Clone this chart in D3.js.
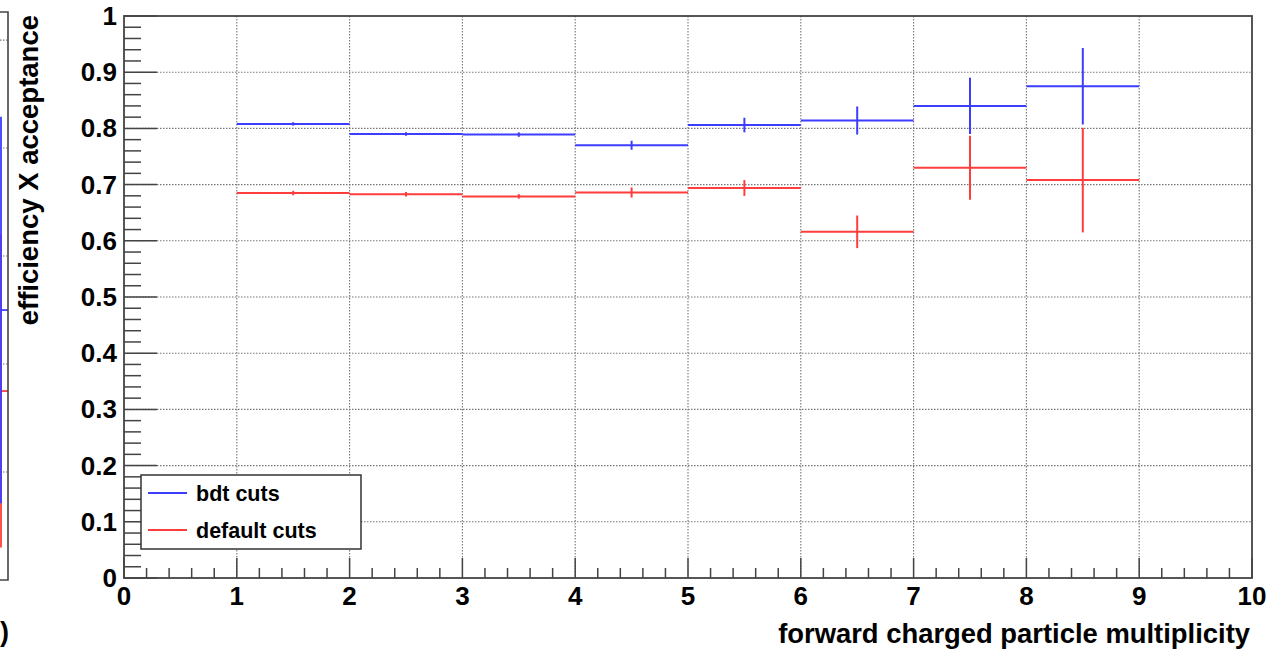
<!DOCTYPE html>
<html>
<head>
<meta charset="utf-8">
<script src="https://cdn.jsdelivr.net/npm/d3@7"></script>
<style>
  body { margin: 0; background: #fff; }
  svg { display: block; font-family: "Liberation Sans", Arial, Helvetica, sans-serif; font-weight: bold; }
</style>
</head>
<body>
<svg id="chart" width="1286" height="651"></svg>
<script>
// bin edges of the multiplicity histogram
const binEdges = [1, 2, 3, 4, 5, 6, 7, 8, 9];
const bdtValues = [0.808, 0.790, 0.789, 0.770, 0.806, 0.814, 0.840, 0.875];
const bdtErrors = [0.003, 0.003, 0.004, 0.008, 0.013, 0.025, 0.050, 0.068];
const defaultValues = [0.685, 0.683, 0.679, 0.686, 0.694, 0.616, 0.730, 0.708];
const defaultErrors = [0.004, 0.004, 0.004, 0.009, 0.014, 0.029, 0.057, 0.093];
const seriesNames = ["bdt cuts", "default cuts"];
const seriesColors = ["#3d3dff", "#ff3d3d"];
const xTicks = [0, 1, 2, 3, 4, 5, 6, 7, 8, 9, 10];
const yTicks = [0, 0.1, 0.2, 0.3, 0.4, 0.5, 0.6, 0.7, 0.8, 0.9, 1];

// neighbouring pad, only its last bin is visible at the left edge
const sideBin = [9, 10];
const sideValues = [0.25, 0.175];
const sideErrors = [0.179, 0.145];
const sideGrid = [0.1, 0.2, 0.3, 0.4, 0.5];

const frame = {left: 124, right: 1252, top: 16, bottom: 578};
const axisColor = "#444";
const gridColor = "#777";

const svg = d3.select("#chart");

const x = d3.scaleLinear().domain([0, 10]).range([frame.left, frame.right]);
const y = d3.scaleLinear().domain([0, 1]).range([frame.bottom, frame.top]);

// ---- side pad (cut off) ----
const sx = d3.scaleLinear().domain([0, 10]).range([-132, 8]);
const sy = d3.scaleLinear().domain([0, 0.526]).range([580, 12]);

svg.append("g").selectAll("line").data(sideGrid).join("line")
    .attr("x1", 0).attr("x2", sx(10))
    .attr("y1", d => sy(d)).attr("y2", d => sy(d))
    .attr("stroke", gridColor).attr("stroke-width", 1.1)
    .attr("stroke-dasharray", "1.5,1.5");

[1, 0].forEach(i => {
    const g = svg.append("g").attr("stroke", seriesColors[i]).attr("stroke-width", 1.8);
    const c = (sideBin[0] + sideBin[1]) / 2;
    g.append("line")
        .attr("x1", sx(sideBin[0])).attr("x2", sx(sideBin[1]))
        .attr("y1", sy(sideValues[i])).attr("y2", sy(sideValues[i]));
    g.append("line")
        .attr("x1", sx(c)).attr("x2", sx(c))
        .attr("y1", sy(sideValues[i] - sideErrors[i])).attr("y2", sy(sideValues[i] + sideErrors[i]));
});

svg.append("path")
    .attr("d", `M0,${sy(0.526)}H${sx(10)}V${sy(0)}H0`)
    .attr("fill", "none").attr("stroke", axisColor).attr("stroke-width", 1.6);

svg.append("text")
    .attr("x", 0).attr("y", 641)
    .attr("font-size", 27)
    .text(")");

// ---- grid ----
svg.append("g").selectAll("line").data(yTicks.slice(1, -1)).join("line")
    .attr("x1", frame.left).attr("x2", frame.right)
    .attr("y1", d => y(d)).attr("y2", d => y(d))
    .attr("stroke", gridColor).attr("stroke-width", 1.1)
    .attr("stroke-dasharray", "1.5,1.5");

svg.append("g").selectAll("line").data(xTicks.slice(1, -1)).join("line")
    .attr("y1", frame.top).attr("y2", frame.bottom)
    .attr("x1", d => x(d)).attr("x2", d => x(d))
    .attr("stroke", gridColor).attr("stroke-width", 1.1)
    .attr("stroke-dasharray", "1.5,1.5");

// ---- ticks ----
const yMinor = d3.range(0, 1.0001, 0.02);
svg.append("g").selectAll("line").data(yMinor).join("line")
    .attr("x1", frame.left)
    .attr("x2", (d, i) => frame.left + (i % 5 === 0 ? 33 : 17))
    .attr("y1", d => y(d)).attr("y2", d => y(d))
    .attr("stroke", axisColor).attr("stroke-width", 1.5);

const xMinor = d3.range(0, 10.0001, 0.2);
svg.append("g").selectAll("line").data(xMinor).join("line")
    .attr("x1", d => x(d)).attr("x2", d => x(d))
    .attr("y1", frame.bottom)
    .attr("y2", (d, i) => frame.bottom - (i % 5 === 0 ? 20 : 10))
    .attr("stroke", axisColor).attr("stroke-width", 1.5);

// ---- data: histogram with error bars ----
const series = [
    {values: bdtValues, errors: bdtErrors},
    {values: defaultValues, errors: defaultErrors}
];

series.forEach((s, i) => {
    const bins = s.values.map((v, k) => ({lo: binEdges[k], hi: binEdges[k + 1], v: v, e: s.errors[k]}));
    const g = svg.append("g")
        .attr("stroke", seriesColors[i])
        .attr("stroke-width", 2);
    g.selectAll(".h").data(bins).join("line")
        .attr("class", "h")
        .attr("x1", d => x(d.lo)).attr("x2", d => x(d.hi))
        .attr("y1", d => y(d.v)).attr("y2", d => y(d.v));
    g.selectAll(".v").data(bins).join("line")
        .attr("class", "v")
        .attr("x1", d => x((d.lo + d.hi) / 2)).attr("x2", d => x((d.lo + d.hi) / 2))
        .attr("y1", d => y(d.v - d.e)).attr("y2", d => y(d.v + d.e));
});

// ---- frame ----
svg.append("rect")
    .attr("x", frame.left).attr("y", frame.top)
    .attr("width", frame.right - frame.left).attr("height", frame.bottom - frame.top)
    .attr("fill", "none").attr("stroke", axisColor).attr("stroke-width", 1.8);

// ---- tick labels ----
svg.append("g").selectAll("text").data(yTicks).join("text")
    .attr("x", 117)
    .attr("y", d => y(d) + 9)
    .attr("text-anchor", "end")
    .attr("font-size", 26)
    .attr("fill", "#000")
    .text(d => d3.format("~g")(d));

svg.append("g").selectAll("text").data(xTicks).join("text")
    .attr("x", d => x(d))
    .attr("y", 605)
    .attr("text-anchor", "middle")
    .attr("font-size", 26)
    .attr("fill", "#000")
    .text(d => d);

// ---- axis titles ----
svg.append("text")
    .attr("transform", "translate(38,15) rotate(-90)")
    .attr("text-anchor", "end")
    .attr("font-size", 27.5)
    .text("efficiency X acceptance");

svg.append("text")
    .attr("x", 1250).attr("y", 643)
    .attr("text-anchor", "end")
    .attr("font-size", 27.4)
    .text("forward charged particle multiplicity");

// ---- legend ----
const legend = svg.append("g");
legend.append("rect")
    .attr("x", 141).attr("y", 475)
    .attr("width", 220).attr("height", 74)
    .attr("fill", "#fff").attr("stroke", "#333").attr("stroke-width", 1.5);

const rows = legend.selectAll("g.row").data(seriesNames).join("g")
    .attr("class", "row")
    .attr("transform", (d, i) => `translate(0,${493 + i * 37})`);
rows.append("line")
    .attr("x1", 148).attr("x2", 187)
    .attr("stroke", (d, i) => seriesColors[i]).attr("stroke-width", 2);
rows.append("text")
    .attr("x", 196).attr("y", 8)
    .attr("font-size", 21.5)
    .text(d => d);
</script>
</body>
</html>
